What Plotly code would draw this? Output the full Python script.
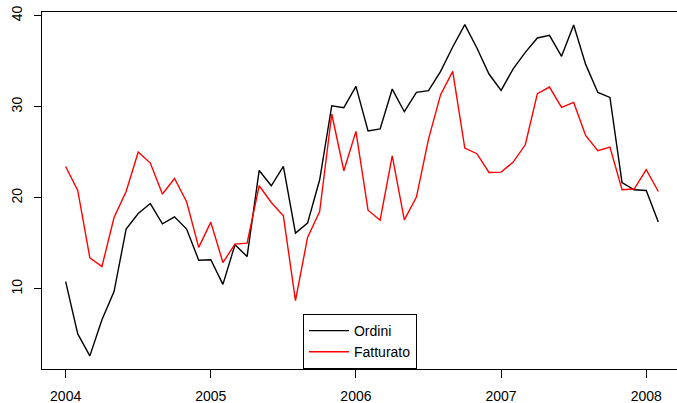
import plotly.graph_objects as go

start_year = 2004
ordini = [10.8, 5.05, 2.64, 6.6, 9.7, 16.56, 18.27, 19.37, 17.14, 17.91, 16.56, 13.15,
          13.19, 10.49, 14.84, 13.55, 23.0, 21.32, 23.44, 16.12, 17.22, 21.98, 30.11, 29.89,
          32.23, 27.35, 27.57, 31.94, 29.45, 31.57, 31.76, 33.88, 36.56, 39.01, 36.45, 33.59,
          31.79, 34.16, 35.97, 37.55, 37.84, 35.53, 38.98, 34.62, 31.57, 31.02, 21.68, 20.88,
          20.80, 17.33]
fatturato = [23.44, 20.80, 13.41, 12.45, 17.84, 20.69, 25.02, 23.81, 20.41, 22.12, 19.56, 14.56,
             17.33, 12.89, 14.91, 15.02, 21.32, 19.48, 18.02, 8.71, 15.64, 18.49, 29.2, 22.97,
             27.29, 18.64, 17.54, 24.6, 17.58, 20.08, 26.45, 31.32, 33.88, 25.46, 24.84, 22.78,
             22.82, 23.92, 25.82, 31.43, 32.16, 29.92, 30.47, 26.81, 25.16, 25.57, 20.88, 20.96,
             23.08, 20.69]
x_ticks = [2004, 2005, 2006, 2007, 2008]
y_ticks = [10, 20, 30, 40]

t = [start_year + i / 12 for i in range(len(ordini))]

fig = go.Figure()
fig.add_trace(go.Scatter(x=t, y=ordini, mode="lines", name="Ordini",
                         line=dict(color="black", width=1.4)))
fig.add_trace(go.Scatter(x=t, y=fatturato, mode="lines", name="Fatturato",
                         line=dict(color="red", width=1.4)))

font = dict(family="Liberation Sans, Arial, sans-serif", size=14, color="black")

fig.update_layout(
    width=677, height=403,
    margin=dict(l=42, r=0, t=12, b=34, autoexpand=False),
    plot_bgcolor="white", paper_bgcolor="white",
    font=font,
    showlegend=True,
    legend=dict(x=0.411, y=0, xanchor="left", yanchor="bottom",
                bordercolor="black", borderwidth=1, bgcolor="white",
                font=font, tracegroupgap=0, itemwidth=40),
    xaxis=dict(range=[2003.837, 2008.212], tickvals=x_ticks, ticktext=[str(v) for v in x_ticks],
               showgrid=False, zeroline=False, showline=True, mirror=True, automargin=False,
               linecolor="black", linewidth=1, ticks="outside", ticklen=8,
               tickcolor="black", ticklabelstandoff=6),
    yaxis=dict(range=[1.2, 40.4], tickvals=y_ticks, ticktext=[str(v) for v in y_ticks],
               showgrid=False, zeroline=False, showline=True, mirror=False, automargin=False,
               linecolor="black", linewidth=1, ticks="outside", ticklen=7,
               tickcolor="black", tickangle=-90, ticklabelstandoff=6),
)

fig.write_html("out.html", config={"displayModeBar": False},
               post_script="document.body.style.margin='0';document.body.style.overflow='hidden';")
